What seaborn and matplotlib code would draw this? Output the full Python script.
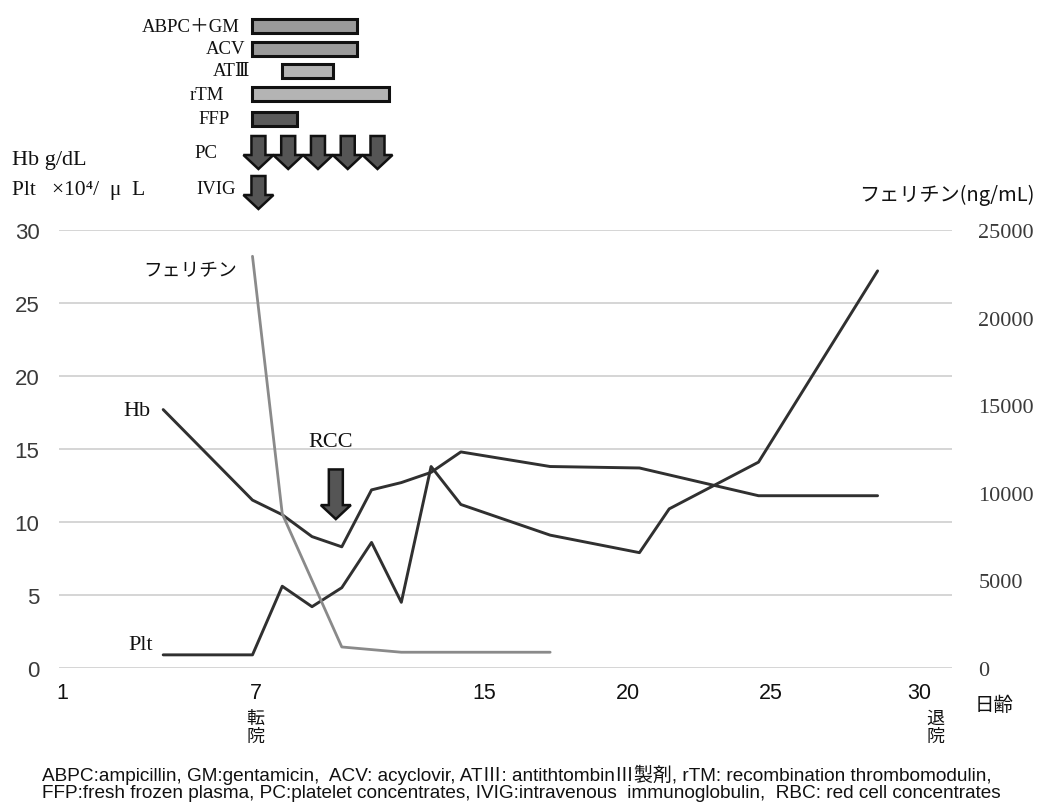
import numpy as np
import pandas as pd
import matplotlib
matplotlib.use("Agg")
import matplotlib.pyplot as plt
import seaborn as sns
from matplotlib.patches import Polygon
from matplotlib.transforms import IdentityTransform

# ---------------- data ----------------
hb_days = [4, 7, 8, 9, 10, 11, 12, 13, 14, 17, 20, 24, 28]
hb_vals = [17.7, 11.5, 10.5, 9.0, 8.3, 12.2, 12.7, 13.4, 14.8, 13.8, 13.7, 11.8, 11.8]

plt_days = [4, 7, 8, 9, 10, 11, 12, 13, 14, 17, 20, 21, 24, 28]
plt_vals = [0.9, 0.9, 5.6, 4.2, 5.5, 8.6, 4.5, 13.8, 11.2, 9.1, 7.9, 10.9, 14.1, 27.2]

ferritin_days = [7, 8, 10, 12, 17]
ferritin_vals = [23500, 8800, 1200, 900, 900]

tx_names = ["ABPC＋GM", "ACV", "ATⅢ", "rTM", "FFP"]
tx_start = [7, 7, 8, 7, 7]
tx_end = [10.5, 10.5, 9.7, 11.6, 8.5]
tx_colors = ["#9a9a9a", "#9a9a9a", "#b4b4b4", "#b4b4b4", "#5a5a5a"]

pc_days = [7.2, 8.2, 9.2, 10.2, 11.2]
ivig_days = [7.2]
rcc_days = [9.8]

left_ticks = [0, 5, 10, 15, 20, 25, 30]
right_ticks = [0, 5000, 10000, 15000, 20000, 25000]
x_tick_labels = ["1", "7", "15", "20", "25", "30"]
# label positions as printed in the original (labels sit slightly left of the day grid)
x_tick_pos = [0.6, 7.1, 14.8, 19.6, 24.4, 29.4]

footnote = [
    "ABPC:ampicillin, GM:gentamicin,  ACV: acyclovir, ATⅢ: antithtombinⅢ製剤, rTM: recombination thrombomodulin,",
    "FFP:fresh frozen plasma, PC:platelet concentrates, IVIG:intravenous  immunoglobulin,  RBC: red cell concentrates",
]

# ---------------- style ----------------
sns.set_theme(style="white")
plt.rcParams["font.family"] = ["Liberation Sans", "Noto Sans CJK JP"]
SERIF = ["Liberation Serif", "DejaVu Serif", "Noto Sans CJK JP"]
JP = ["Noto Sans CJK JP", "DejaVu Sans"]
INK = "#111111"

W, H = 1037, 803
fig = plt.figure(figsize=(W / 100, H / 100), dpi=100)
fig.patch.set_facecolor("white")

L, R, T, B = 59, 952, 231, 669
ax = fig.add_axes([L / W, 1 - B / H, (R - L) / W, (B - T) / H])
ax_top = fig.add_axes([L / W, 1 - 215 / H, (R - L) / W, 210 / H])

XMIN, XMAX = 0.5, 30.5
ax.set_xlim(XMIN, XMAX)
ax.set_ylim(0, 30)
ax2 = ax.twinx()
ax2.set_ylim(0, 25000)

# lines
sns.lineplot(x=hb_days, y=hb_vals, ax=ax, color="#303030", linewidth=2.1, estimator=None)
sns.lineplot(x=plt_days, y=plt_vals, ax=ax, color="#303030", linewidth=2.1, estimator=None)
sns.lineplot(x=ferritin_days, y=ferritin_vals, ax=ax2, color="#8a8a8a", linewidth=2.0, estimator=None)

# grid / spines
ax.set_yticks(left_ticks)
ax.yaxis.grid(True, color="#d2d2d2", linewidth=1.3)
ax.xaxis.grid(False)
ax.set_axisbelow(True)
for a in (ax, ax2):
    for s in a.spines.values():
        s.set_visible(False)
    a.tick_params(length=0)
ax.set_xticks(x_tick_pos)
ax.set_xticklabels(x_tick_labels, fontsize=15.5, color=INK, fontweight="medium")
ax.tick_params(axis="x", pad=10)
ax.set_yticklabels([str(t) for t in left_ticks], fontsize=16, color="#3a3a3a")
ax.tick_params(axis="y", pad=14)
ax2.set_yticks(right_ticks)
ax2.set_yticklabels([str(t) for t in right_ticks], fontsize=16, color="#3a3a3a",
                    family=SERIF)
ax2.tick_params(axis="y", pad=19)
ax.set_xlabel("")
ax.set_ylabel("")
ax2.set_ylabel("")

# top treatment panel
ax_top.set_xlim(XMIN, XMAX)
ax_top.set_ylim(215, 5)
ax_top.axis("off")
rows = [27, 50, 72, 95, 120]
ax_top.barh(rows, np.array(tx_end) - np.array(tx_start), left=tx_start, height=14,
            color=tx_colors, edgecolor=INK, linewidth=2.2)

def down_arrow(a, day, y_top_disp, y_bot_disp, sw=7, hw=15, hl=14):
    cx = a.transData.transform((day, 0))[0]
    yt, yb = y_top_disp, y_bot_disp
    verts = [(cx - sw, yt), (cx + sw, yt), (cx + sw, yb + hl), (cx + hw, yb + hl),
             (cx, yb), (cx - hw, yb + hl), (cx - sw, yb + hl)]
    p = Polygon(verts, closed=True, facecolor="#555555", edgecolor=INK,
                linewidth=1.8, transform=IdentityTransform(), clip_on=False)
    a.add_patch(p)

for d in pc_days:
    down_arrow(ax_top, d, H - 137, H - 170)
for d in ivig_days:
    down_arrow(ax_top, d, H - 177, H - 210)
for d in rcc_days:
    yt = ax.transData.transform((d, 13.6))[1]
    yb = ax.transData.transform((d, 10.2))[1]
    down_arrow(ax, d, yt, yb)

def ftext(x, y, s, **kw):
    fig.text(x / W, 1 - y / H, s, **kw)

# treatment labels
lab_fs = 13.5
for x, y, s in [(240, 27, "ABPC＋GM"), (245, 50, "ACV"), (250, 72, "ATⅢ"),
                (224, 96, "rTM"), (230, 120, "FFP"), (217, 153, "PC"), (236, 190, "IVIG")]:
    ftext(x, y, s, ha="right", va="center", fontsize=lab_fs, family=SERIF, color=INK)

# axis titles
ftext(12, 160, "Hb g/dL", ha="left", va="center", fontsize=16, family=SERIF, color=INK)
ftext(12, 190, "Plt   ×10⁴/  μ  L", ha="left", va="center", fontsize=15.5, family=SERIF, color=INK)
ftext(1035, 195, "フェリチン(ng/mL)", ha="right", va="center", fontsize=14.5, family=JP, color=INK)

# in-plot labels
ftext(237, 271, "フェリチン", ha="right", va="center", fontsize=13.5, family=JP, color=INK)
ftext(150, 412, "Hb", ha="right", va="center", fontsize=16, family=SERIF, color=INK)
ftext(153, 646, "Plt", ha="right", va="center", fontsize=16, family=SERIF, color=INK)
ftext(331, 443, "RCC", ha="center", va="center", fontsize=16, family=SERIF, color=INK)

# x annotations
xt = ax.get_xaxis_transform()
ax.text(7.1, -0.094, "転\n院", transform=xt, ha="center", va="top", fontsize=13,
        family=JP, linespacing=1.0, color=INK)
ax.text(29.95, -0.094, "退\n院", transform=xt, ha="center", va="top", fontsize=13,
        family=JP, linespacing=1.0, color=INK)
ftext(975, 706, "日齢", ha="left", va="center", fontsize=14, family=JP, color=INK)

# footnote
for i, line in enumerate(footnote):
    ftext(42, 775 + 19 * i, line, ha="left", va="center", fontsize=13.7,
          family=["Liberation Sans", "Noto Sans CJK JP"], color=INK)

fig.savefig("out.png", dpi=100)
